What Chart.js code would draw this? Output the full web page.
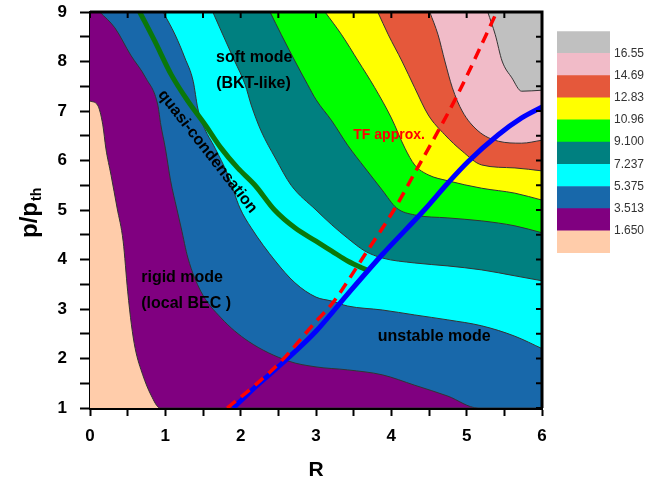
<!DOCTYPE html>
<html>
<head>
<meta charset="utf-8">
<script src="https://cdn.jsdelivr.net/npm/chart.js@4.4.1/dist/chart.umd.min.js"></script>
<style>
  body { margin: 0; background: #fff; }
  #wrap { position: relative; width: 670px; height: 485px; }
  #main { position: absolute; left: 0; top: 0; }
  #bar { position: absolute; left: 550px; top: 20px; }
</style>
</head>
<body>
<div id="wrap">
  <canvas id="main" width="670" height="485"></canvas>
  <canvas id="bar" width="120" height="250"></canvas>
</div>
<script>
// contour levels (colour bar)
const levels = [1.650, 3.513, 5.375, 7.237, 9.100, 10.96, 12.83, 14.69, 16.55];

// contour boundaries [R, p/p_th], lowest level first
const c1650 = [[0,7.2],[0.1,7.12],[0.17,6.72],[0.21,6.25],[0.28,5.7],[0.36,5.04],[0.44,4.37],[0.5,3.36],[0.55,2.68],[0.6,2.2],[0.7,1.67],[0.81,1.26],[0.93,1],[6,1]];
const c3513 = [[0.13,9],[0.33,8.68],[0.54,8.13],[0.74,7.67],[0.9,7.12],[0.94,6.72],[1.0,6.25],[1.07,5.59],[1.15,5.04],[1.21,4.64],[1.3,4.03],[1.47,3.36],[1.74,2.82],[2.1,2.35],[2.63,1.95],[3.0,1.83],[3.42,1.77],[3.88,1.67],[4.31,1.46],[4.75,1.24],[5.15,1],[6,1]];
const c5375 = [[0.97,9],[1.13,8.54],[1.26,8.07],[1.37,7.6],[1.43,7.06],[1.5,6.72],[1.66,6.25],[1.83,5.71],[1.99,5.04],[2.14,4.64],[2.46,3.97],[2.72,3.53],[3.0,3.24],[3.21,3.16],[3.42,3.06],[3.88,2.98],[4.31,2.88],[4.75,2.78],[5.2,2.66],[5.64,2.45],[6,2.2]];
const c7237 = [[1.63,9],[1.74,8.62],[1.92,8.01],[2.06,7.53],[2.14,7.12],[2.27,6.6],[2.46,6.05],[2.67,5.5],[3.0,5.0],[3.21,4.7],[3.42,4.43],[3.65,4.17],[3.88,4.03],[4.31,3.93],[4.75,3.87],[5.2,3.79],[5.64,3.67],[6,3.57]];
const c9100 = [[2.39,9],[2.54,8.54],[2.72,8.01],[2.89,7.53],[3.0,7.23],[3.21,6.8],[3.42,6.31],[3.65,5.85],[3.88,5.4],[4.07,5.04],[4.31,4.9],[4.75,4.84],[5.2,4.78],[5.64,4.68],[6,4.54]];
const c1096 = [[3.12,9],[3.34,8.54],[3.56,8.01],[3.78,7.47],[4.0,6.86],[4.18,6.25],[4.31,5.91],[4.49,5.71],[4.75,5.59],[5.2,5.44],[5.64,5.34],[6,5.2]];
const c1283 = [[3.82,9],[3.96,8.54],[4.14,8.01],[4.31,7.47],[4.49,6.92],[4.71,6.52],[4.94,6.19],[5.2,5.91],[5.64,5.85],[6,5.79]];
const c1469 = [[4.51,9],[4.62,8.54],[4.71,8.01],[4.81,7.47],[4.94,7.0],[5.15,6.6],[5.42,6.39],[5.73,6.35],[6,6.41]];
const c1655 = [[5.28,9],[5.38,8.54],[5.47,8.01],[5.6,7.67],[5.73,7.4],[6,7.42]];
const contours = [c1650, c3513, c5375, c7237, c9100, c1096, c1283, c1469, c1655];

// phase lines
const quasiLine = [[0.66,9],[0.86,8.41],[1.08,7.73],[1.3,7.2],[1.53,6.72],[1.74,6.25],[1.96,5.85],[2.19,5.5],[2.45,5.0],[2.72,4.64],[3.0,4.37],[3.21,4.17],[3.42,3.97],[3.7,3.77]];
const tfLine = [[1.82,1],[2.19,1.46],[2.54,1.95],[3.0,2.75],[3.21,3.1],[3.65,4.1],[4.05,5.04],[4.31,5.75],[4.54,6.37],[4.88,7.33],[5.4,9]];
const unstableLine = [[1.9,1],[2.25,1.5],[2.6,1.97],[3.0,2.55],[3.42,3.3],[3.88,4.1],[4.45,5.02],[4.76,5.56],[5.02,5.98],[5.42,6.52],[5.73,6.86],[6,7.08]];

const bandColors = ['#FFCCAA', '#800080', '#1868AA', '#00FFFF', '#008080', '#00FF00', '#FFFF00', '#E5583B', '#F1BBC8', '#C0C0C0'];
const FONT = "'Liberation Sans', Arial, sans-serif";

const pts = arr => arr.map(([x, y]) => ({x: x, y: y}));

const datasets = contours.map((c, i) => ({
  data: pts(c),
  borderColor: '#333',
  borderWidth: 1,
  backgroundColor: bandColors[i + 1],
  fill: 'end',
  pointRadius: 0,
  cubicInterpolationMode: 'monotone',
  order: 20 - i
}));
datasets.push({ data: pts(quasiLine), borderColor: '#0A780A', borderWidth: 5, fill: false, pointRadius: 0, cubicInterpolationMode: 'monotone', order: 2 });
datasets.push({ data: pts(unstableLine), borderColor: '#0000FF', borderWidth: 5, fill: false, pointRadius: 0, cubicInterpolationMode: 'monotone', order: 1 });
datasets.push({ data: pts(tfLine), borderColor: '#FF0000', borderWidth: 3.5, borderDash: [11, 7], fill: false, pointRadius: 0, cubicInterpolationMode: 'monotone', order: 0 });

// text on the plot
const notes = [
  {text: 'soft mode', R: 2.18, p: 8.07},
  {text: '(BKT-like)', R: 2.17, p: 7.55},
  {text: 'rigid mode', R: 0.68, p: 3.63, align: 'left'},
  {text: '(local BEC )', R: 0.68, p: 3.1, align: 'left'},
  {text: 'unstable mode', R: 4.57, p: 2.45},
  {text: 'quasi-condensation', R: 1.56, p: 6.18, rot: 52},
  {text: 'TF approx.', R: 3.97, p: 6.52, color: '#FF0000', size: 14}
];

const decorations = {
  id: 'decorations',
  beforeDatasetsDraw(chart) {
    const a = chart.chartArea, ctx = chart.ctx;
    ctx.save();
    ctx.fillStyle = bandColors[0];
    ctx.fillRect(a.left, a.top, a.right - a.left, a.bottom - a.top);
    ctx.restore();
  },
  afterDatasetsDraw(chart) {
    const ctx = chart.ctx, x = chart.scales.x, y = chart.scales.y;
    ctx.save();
    notes.forEach(n => {
      ctx.save();
      ctx.translate(x.getPixelForValue(n.R), y.getPixelForValue(n.p));
      if (n.rot) ctx.rotate(n.rot * Math.PI / 180);
      ctx.font = 'bold ' + (n.size || 16) + 'px ' + FONT;
      ctx.fillStyle = n.color || '#000';
      ctx.textAlign = n.align || 'center';
      ctx.textBaseline = 'middle';
      ctx.fillText(n.text, 0, 0);
      ctx.restore();
    });
    ctx.restore();
  },
  afterDraw(chart) {
    const ctx = chart.ctx, a = chart.chartArea, x = chart.scales.x, y = chart.scales.y;
    ctx.save();
    ctx.strokeStyle = '#000';
    // top and right frame
    ctx.lineWidth = 3;
    ctx.beginPath();
    ctx.moveTo(a.left, a.top); ctx.lineTo(a.right, a.top); ctx.lineTo(a.right, a.bottom);
    ctx.stroke();
    // mirror ticks, pointing inwards
    ctx.lineWidth = 2;
    x.ticks.forEach(t => {
      const px = x.getPixelForValue(t.value);
      ctx.beginPath(); ctx.moveTo(px, a.top); ctx.lineTo(px, a.top + 6); ctx.stroke();
    });
    y.ticks.forEach(t => {
      const py = y.getPixelForValue(t.value);
      ctx.beginPath(); ctx.moveTo(a.right, py); ctx.lineTo(a.right - 6, py); ctx.stroke();
    });
    // y title p/p_th
    ctx.translate(30, 238);
    ctx.rotate(-Math.PI / 2);
    ctx.fillStyle = '#000';
    ctx.textBaseline = 'middle';
    ctx.textAlign = 'left';
    ctx.font = 'bold 24px ' + FONT;
    ctx.fillText('p/p', 0, 0);
    const w = ctx.measureText('p/p').width;
    ctx.font = 'bold 14px ' + FONT;
    ctx.fillText('th', w + 1, 7);
    ctx.restore();
  }
};

const tickFont = {family: FONT, size: 17, weight: 'bold'};

new Chart(document.getElementById('main'), {
  type: 'line',
  data: { datasets: datasets },
  options: {
    responsive: false,
    animation: false,
    events: [],
    layout: { autoPadding: false, padding: { left: 0, top: 12, right: 128, bottom: 0 } },
    plugins: { legend: { display: false }, tooltip: { enabled: false } },
    scales: {
      x: {
        type: 'linear', min: 0, max: 6,
        ticks: { stepSize: 0.5, autoSkip: false, maxRotation: 0, color: '#000', font: tickFont, padding: 10,
                 callback: v => Number.isInteger(v) ? v : '' },
        grid: { drawOnChartArea: false, tickLength: 8, tickColor: '#000', tickWidth: 2 },
        border: { color: '#000', width: 3 },
        title: { display: true, text: 'R', color: '#000', font: {family: FONT, size: 21, weight: 'bold'}, padding: {top: 0, bottom: 2} },
        afterFit: s => { s.height = 77; s.paddingLeft = 0; s.paddingRight = 0; }
      },
      y: {
        type: 'linear', min: 1, max: 9,
        ticks: { stepSize: 0.5, autoSkip: false, color: '#000', font: tickFont, padding: 13,
                 callback: v => Number.isInteger(v) ? v : '' },
        grid: { drawOnChartArea: false, tickLength: 10, tickColor: '#000', tickWidth: 2 },
        border: { color: '#000', width: 3 },
        afterFit: s => { s.width = 90; s.paddingTop = 0; s.paddingBottom = 0; }
      }
    }
  },
  plugins: [decorations]
});

// colour bar
new Chart(document.getElementById('bar'), {
  type: 'bar',
  data: {
    labels: [''],
    datasets: bandColors.map(c => ({ data: [1], backgroundColor: c, borderWidth: 0, barPercentage: 1, categoryPercentage: 1 }))
  },
  options: {
    responsive: false,
    animation: false,
    events: [],
    layout: { padding: { left: 7, top: 9, bottom: 17, right: 0 } },
    plugins: { legend: { display: false }, tooltip: { enabled: false } },
    scales: {
      x: { display: false, stacked: true },
      y: {
        stacked: true, position: 'right', min: 0, max: 10,
        border: { display: false },
        grid: { display: false, drawTicks: false },
        ticks: { stepSize: 1, padding: 4, color: '#333', font: {family: FONT, size: 12},
                 callback: v => (v >= 1 && v <= 9) ? levels[v - 1].toPrecision(4) : '' },
        afterFit: s => { s.width = 60; }
      }
    }
  }
});
</script>
</body>
</html>
